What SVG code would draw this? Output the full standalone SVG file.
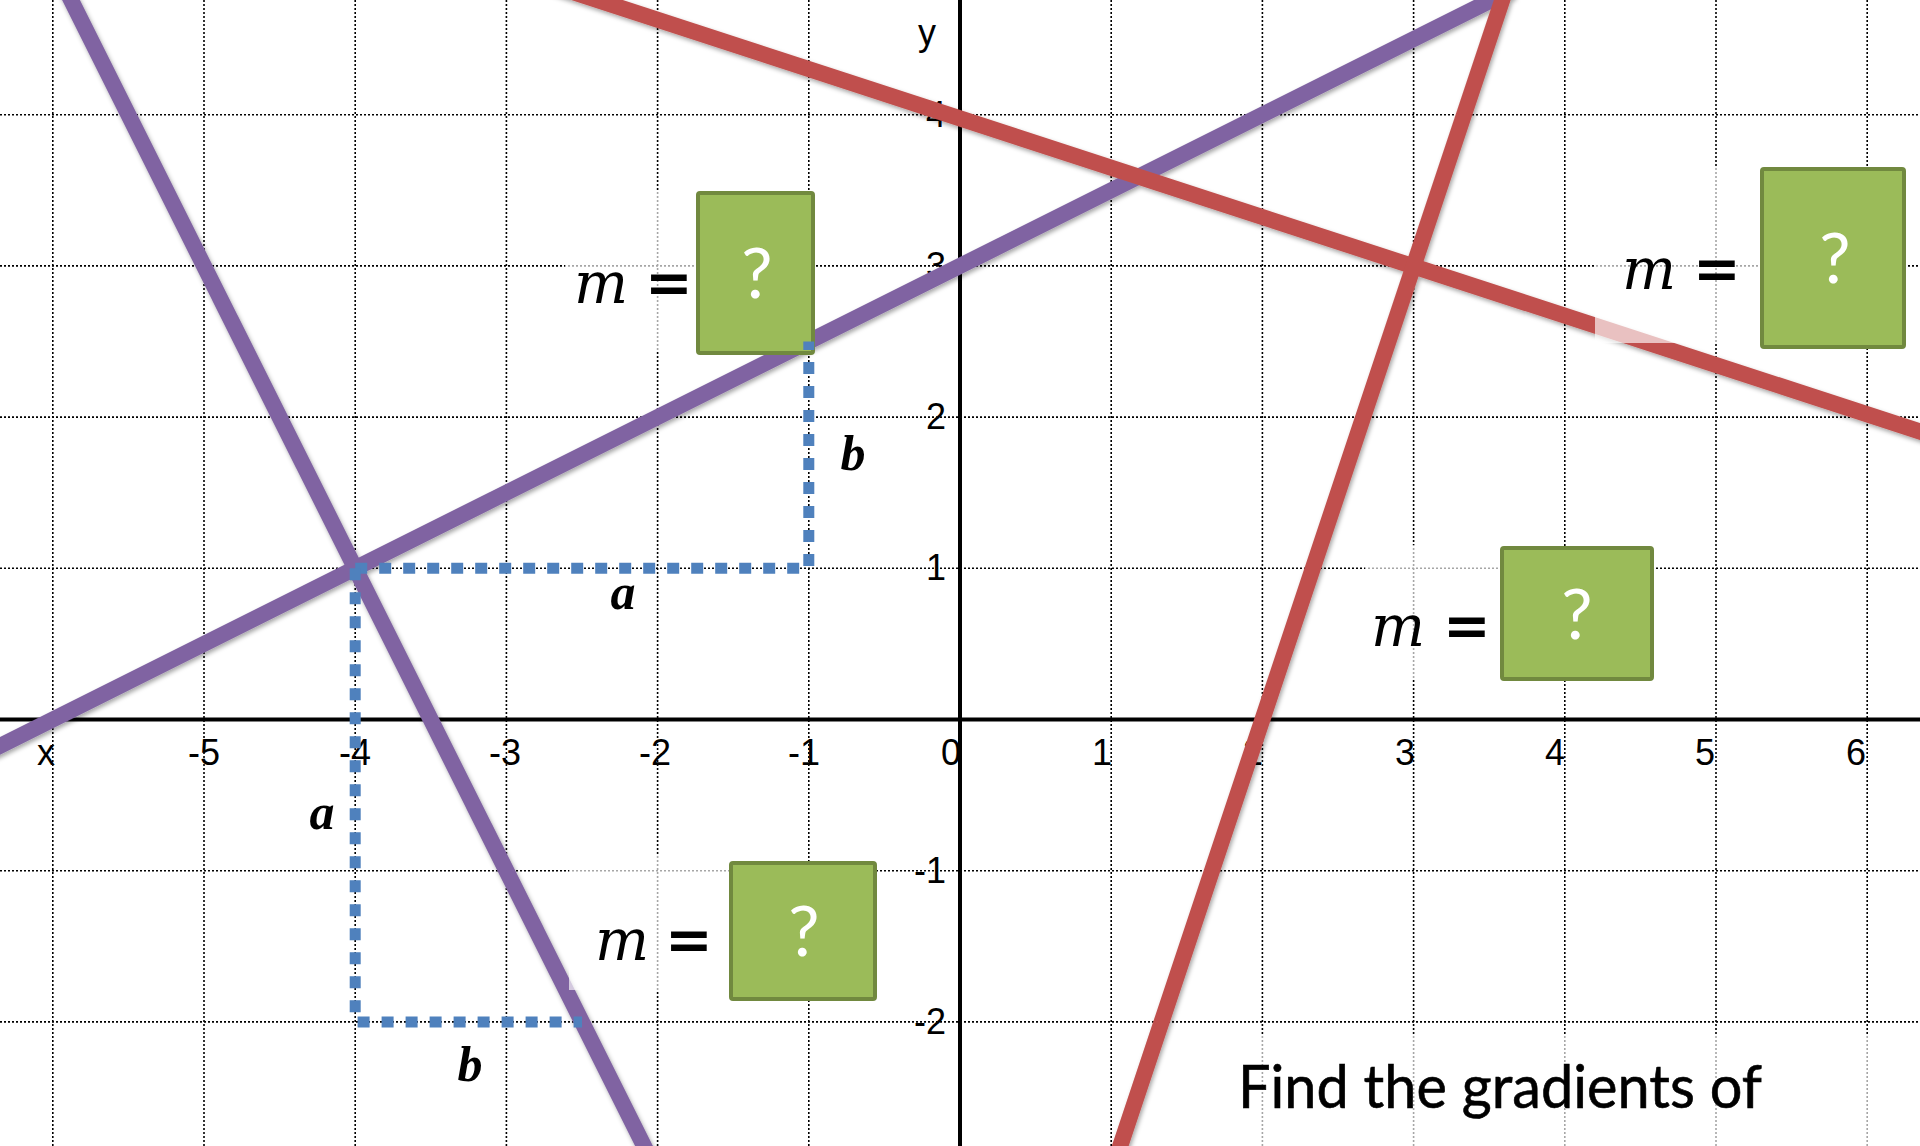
<svg xmlns="http://www.w3.org/2000/svg" width="1920" height="1146" viewBox="0 0 1920 1146">
<style>
.grid{stroke:#000;stroke-width:1.6;stroke-dasharray:2 2;fill:none}
.axis{stroke:#000;stroke-width:4;fill:none}
.lbl{font-family:"Liberation Sans Narrow","Liberation Sans",Arial,sans-serif;font-size:36px;fill:#000}
.purple{stroke:#8064A2;stroke-width:16;fill:none}
.red{stroke:#C0504D;stroke-width:16;fill:none}
.blue{stroke:#4F81BD;stroke-width:11;stroke-dasharray:12 12;fill:none}
.veil{fill:#fff;fill-opacity:0.65}
.box{fill:#9BBB59;stroke:#71893F;stroke-width:4}
.q{font-family:Lato,"Open Sans",sans-serif;font-size:70px;fill:#fff;text-anchor:middle}
.m{font-family:"DejaVu Serif",serif;font-style:italic;font-size:57px;fill:#000}
.eq{font-style:normal;font-weight:bold}
.ab{font-family:"Liberation Serif","Times New Roman",serif;font-style:italic;font-weight:bold;font-size:50px;fill:#000;text-anchor:middle}
.big{font-family:Lato,"Open Sans",sans-serif;font-size:60px;fill:#000;stroke:#000;stroke-width:0.6}
</style>
<defs>
<filter id="sh" x="-5%" y="-5%" width="110%" height="110%">
<feDropShadow dx="1.5" dy="2.5" stdDeviation="2" flood-color="#000" flood-opacity="0.35"/>
</filter>
</defs>
<rect width="1920" height="1146" fill="#fff"/>
<g id="grid">
<path class="grid" d="M52.8 0V1146M204 0V1146M355.2 0V1146M506.4 0V1146M657.6 0V1146M808.8 0V1146M1111.2 0V1146M1262.4 0V1146M1413.6 0V1146M1564.8 0V1146M1716 0V1146M1867.2 0V1146"/>
<path class="grid" d="M0 114.7H1920M0 265.9H1920M0 417.1H1920M0 568.3H1920M0 870.7H1920M0 1021.9H1920"/>
</g>
<g id="axes">
<path class="axis" d="M0 719.5H1920M960 0V1146"/>
<g class="lbl" text-anchor="middle">
<text x="46" y="765">x</text>
<text x="204" y="765">-5</text>
<text x="355" y="765">-4</text>
<text x="505" y="765">-3</text>
<text x="655" y="765">-2</text>
<text x="804" y="765">-1</text>
<text x="951" y="765">0</text>
<text x="1102" y="765">1</text>
<text x="1253" y="765">2</text>
<text x="1405" y="765">3</text>
<text x="1555" y="765">4</text>
<text x="1705" y="765">5</text>
<text x="1856" y="765">6</text>
<text x="927" y="45">y</text>
</g>
<g class="lbl" text-anchor="end">
<text x="946" y="127">4</text>
<text x="946" y="278">3</text>
<text x="946" y="429">2</text>
<text x="946" y="580">1</text>
<text x="946" y="883">-1</text>
<text x="946" y="1034">-2</text>
</g>
</g>
<g id="connectors" filter="url(#sh)">
<line class="purple" x1="-10" y1="750.9" x2="1512" y2="-10.1"/>
<line class="purple" x1="66" y1="-10" x2="649" y2="1156"/>
<line class="red" x1="-10" y1="-198" x2="1930" y2="434.8"/>
<line class="red" x1="1505.6" y1="-10" x2="1116.9" y2="1156"/>
</g>
<g id="veils">
<rect class="veil" x="565" y="190" width="132" height="162"/>
<rect class="veil" x="1595" y="168" width="166" height="175"/>
<rect class="veil" x="1365" y="545" width="136" height="134"/>
<rect class="veil" x="569" y="854" width="161" height="136"/>
<rect class="veil" x="1228" y="1035" width="652" height="111"/>
</g>
<g id="box1">
<rect class="box" x="698" y="193" width="115" height="160" rx="2"/>
<text class="q" x="757" y="298">?</text>
<text class="m"><tspan x="574" y="303">m</tspan><tspan class="eq" x="645">=</tspan></text>
</g>
<g id="box2">
<rect class="box" x="1762" y="169" width="142" height="178" rx="2"/>
<text class="q" x="1835" y="283">?</text>
<text class="m"><tspan x="1622" y="289">m</tspan><tspan class="eq" x="1693">=</tspan></text>
</g>
<g id="box3">
<rect class="box" x="1502" y="548" width="150" height="131" rx="2"/>
<text class="q" x="1577" y="639">?</text>
<text class="m"><tspan x="1371" y="646">m</tspan><tspan class="eq" x="1443">=</tspan></text>
</g>
<g id="box4">
<rect class="box" x="731" y="863" width="144" height="136" rx="2"/>
<text class="q" x="804" y="956">?</text>
<text class="m"><tspan x="595" y="960">m</tspan><tspan class="eq" x="665">=</tspan></text>
</g>
<g id="triangles">
<polyline class="blue" points="355.2,568.3 808.8,568.3 808.8,341.5"/>
<polyline class="blue" points="355.2,568.3 355.2,1021.9 582,1021.9"/>
<text class="ab" x="853" y="470">b</text>
<text class="ab" x="623" y="609">a</text>
<text class="ab" x="322" y="829">a</text>
<text class="ab" x="470" y="1081">b</text>
</g>
<g id="caption">
<text class="big" x="1238" y="1108" textLength="524" lengthAdjust="spacingAndGlyphs">Find the gradients of</text>
</g>
</svg>
